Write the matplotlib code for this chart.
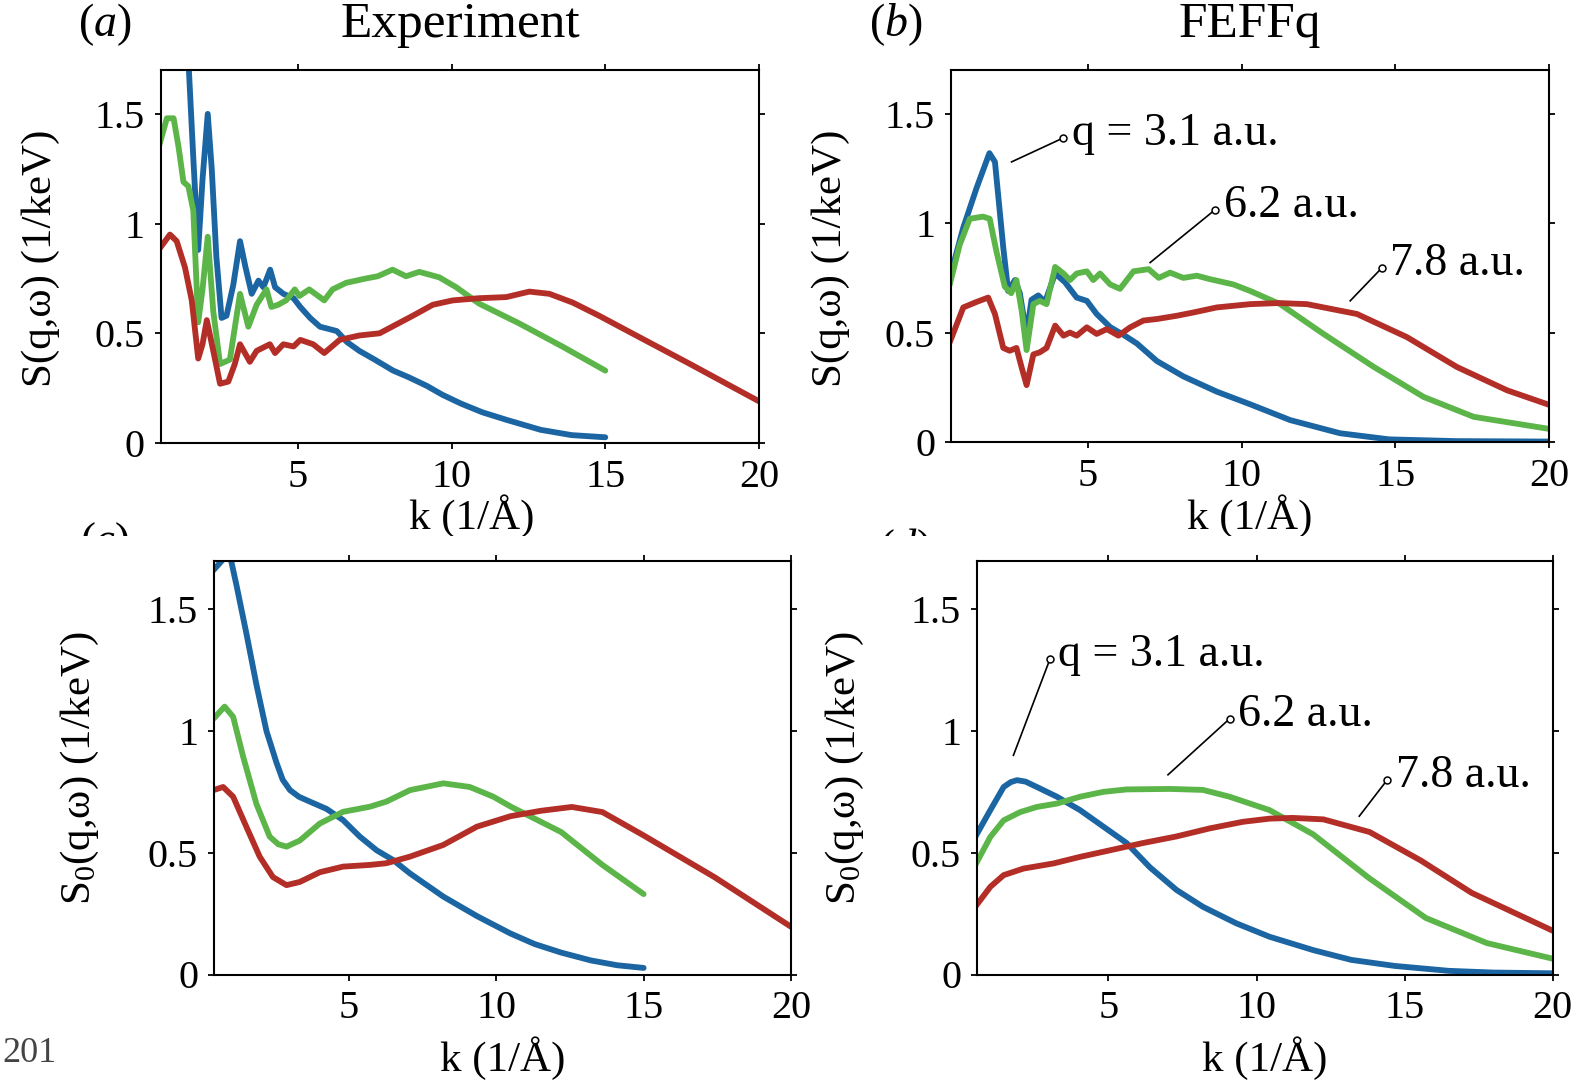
import matplotlib
matplotlib.use("Agg")
import matplotlib.pyplot as plt
from matplotlib.transforms import Bbox

plt.rcParams['font.family'] = 'Liberation Serif'
plt.rcParams['mathtext.fontset'] = 'custom'
plt.rcParams['mathtext.rm'] = 'Liberation Serif'
plt.rcParams['mathtext.it'] = 'Liberation Serif:italic'

# ---- data: k (1/A) and S (1/keV) ----
# (a) experiment, S(q,w)
exp_k_q31 = [1.2, 1.45, 1.6, 1.76, 1.9, 2.07, 2.2, 2.35, 2.52, 2.68, 2.9, 3.12, 3.3, 3.5, 3.72, 3.88, 4.1, 4.26,
             4.53, 4.86, 5.08, 5.4, 5.72, 6.0, 6.27, 6.6, 7.0, 7.5, 8.1, 8.6, 9.2, 9.7, 10.3, 11.0, 11.8, 12.9,
             13.9, 15.0]
exp_s_q31 = [2.4, 1.72, 1.3, 0.88, 1.2, 1.50, 1.25, 0.85, 0.57, 0.58, 0.72, 0.92, 0.80, 0.68, 0.74, 0.71, 0.79, 0.71,
             0.68, 0.66, 0.62, 0.57, 0.53, 0.52, 0.51, 0.46, 0.42, 0.38, 0.33, 0.30, 0.26, 0.22, 0.18, 0.14, 0.105,
             0.06, 0.036, 0.026]
exp_k_q62 = [0.5, 0.74, 0.96, 1.12, 1.28, 1.44, 1.6, 1.76, 1.9, 2.07, 2.25, 2.47, 2.79, 3.12, 3.39, 3.66, 3.98, 4.14,
             4.36, 4.62, 4.9, 5.05, 5.37, 5.86, 6.13, 6.57, 7.22, 7.6, 8.08, 8.52, 8.95, 9.6, 10.15, 10.9, 12.2,
             13.6, 15.0]
exp_s_q62 = [1.36, 1.48, 1.48, 1.35, 1.19, 1.17, 1.06, 0.55, 0.70, 0.94, 0.60, 0.36, 0.38, 0.68, 0.53, 0.63, 0.70, 0.62,
             0.63, 0.65, 0.70, 0.67, 0.70, 0.65, 0.70, 0.73, 0.75, 0.76, 0.79, 0.76, 0.78, 0.755, 0.71, 0.635, 0.545,
             0.44, 0.33]
exp_k_q78 = [0.5, 0.84, 1.06, 1.33, 1.55, 1.76, 1.9, 2.04, 2.25, 2.47, 2.74, 2.95, 3.12, 3.44, 3.66, 4.09, 4.26, 4.53,
             4.86, 5.08, 5.5, 5.86, 6.36, 7.0, 7.66, 8.2, 8.74, 9.39, 10.04, 10.9, 11.78, 12.53, 13.18, 13.94, 14.8,
             16.1, 17.73, 20.0]
exp_s_q78 = [0.885, 0.95, 0.92, 0.80, 0.65, 0.385, 0.45, 0.56, 0.42, 0.27, 0.28, 0.36, 0.45, 0.37, 0.42, 0.45, 0.41,
             0.45, 0.44, 0.47, 0.45, 0.41, 0.47, 0.49, 0.50, 0.54, 0.58, 0.63, 0.65, 0.66, 0.665, 0.69, 0.68, 0.64,
             0.58, 0.483, 0.362, 0.19]

# (b) FEFFq, S(q,w)
feff_k_q31 = [0.5, 0.94, 1.37, 1.79, 1.97, 2.24, 2.4, 2.62, 2.78, 3.0, 3.16, 3.38, 3.6, 3.93, 4.25, 4.63, 4.96, 5.28,
              5.72, 6.15, 6.59, 7.24, 8.1, 9.19, 10.28, 11.58, 13.2, 14.8, 17.0, 20.0]
feff_s_q31 = [0.75, 0.98, 1.16, 1.32, 1.28, 0.89, 0.69, 0.74, 0.68, 0.49, 0.65, 0.67, 0.64, 0.77, 0.73, 0.66, 0.645,
              0.585, 0.525, 0.49, 0.45, 0.37, 0.30, 0.23, 0.172, 0.10, 0.04, 0.012, 0.004, 0.002]
feff_k_q62 = [0.5, 0.82, 1.15, 1.58, 1.8, 2.02, 2.29, 2.5, 2.67, 2.84, 3.0, 3.22, 3.43, 3.65, 3.93, 4.2, 4.41, 4.63,
              4.96, 5.17, 5.39, 5.72, 6.04, 6.48, 6.97, 7.3, 7.67, 8.1, 8.54, 8.97, 9.73, 10.28, 11.25, 12.66, 14.3,
              15.92, 17.55, 20.0]
feff_s_q62 = [0.72, 0.90, 1.02, 1.03, 1.02, 0.87, 0.71, 0.68, 0.74, 0.60, 0.42, 0.63, 0.645, 0.63, 0.80, 0.77, 0.74,
              0.77, 0.78, 0.74, 0.77, 0.72, 0.70, 0.78, 0.79, 0.75, 0.774, 0.75, 0.76, 0.744, 0.72, 0.69, 0.63, 0.494,
              0.343, 0.206, 0.115, 0.06]
feff_k_q78 = [0.5, 0.94, 1.37, 1.75, 1.97, 2.24, 2.45, 2.67, 2.84, 3.0, 3.22, 3.43, 3.65, 3.93, 4.2, 4.41, 4.63, 4.96,
              5.28, 5.61, 5.99, 6.37, 6.8, 7.24, 7.89, 8.43, 9.19, 10.28, 11.2, 12.12, 13.75, 15.38, 17.0, 18.64, 20.0]
feff_s_q78 = [0.456, 0.615, 0.64, 0.66, 0.585, 0.43, 0.417, 0.43, 0.34, 0.26, 0.40, 0.41, 0.43, 0.532, 0.486, 0.50,
              0.486, 0.524, 0.494, 0.516, 0.486, 0.524, 0.555, 0.562, 0.577, 0.592, 0.615, 0.63, 0.635, 0.63, 0.585,
              0.479, 0.343, 0.236, 0.17]

# (c) experiment, S0(q,w)
exp0_k_q31 = [0.4, 0.84, 1.0, 1.18, 1.52, 1.86, 2.2, 2.54, 2.75, 3.0, 3.3, 3.67, 4.24, 4.8, 5.37, 5.94, 6.5, 7.07,
              8.2, 9.34, 10.47, 11.3, 12.2, 13.2, 14.1, 15.0]
exp0_s_q31 = [1.66, 1.72, 1.70, 1.60, 1.40, 1.19, 1.0, 0.87, 0.80, 0.757, 0.73, 0.71, 0.68, 0.634, 0.566, 0.51, 0.47,
              0.415, 0.32, 0.24, 0.169, 0.125, 0.09, 0.058, 0.038, 0.027]
exp0_k_q62 = [0.4, 0.78, 1.07, 1.41, 1.86, 2.31, 2.6, 2.88, 3.33, 4.01, 4.8, 5.71, 6.27, 7.07, 8.2, 9.1, 9.9, 10.48,
              12.2, 13.6, 15.0]
exp0_s_q62 = [1.05, 1.10, 1.058, 0.894, 0.70, 0.566, 0.535, 0.525, 0.55, 0.62, 0.668, 0.689, 0.71, 0.757, 0.785, 0.77,
              0.73, 0.69, 0.585, 0.45, 0.33]
exp0_k_q78 = [0.4, 0.73, 1.07, 1.52, 1.97, 2.42, 2.88, 3.33, 4.01, 4.8, 5.71, 6.27, 7.07, 8.2, 9.34, 10.48, 11.5,
              12.56, 13.6, 15.0, 17.4, 20.0]
exp0_s_q78 = [0.757, 0.77, 0.73, 0.606, 0.484, 0.40, 0.367, 0.38, 0.42, 0.443, 0.45, 0.457, 0.484, 0.532, 0.607, 0.65,
              0.672, 0.688, 0.667, 0.571, 0.40, 0.196]

# (d) FEFFq, S0(q,w)
feff0_k_q31 = [0.5, 1.01, 1.46, 1.7, 1.91, 2.2, 2.58, 3.26, 4.04, 4.83, 5.61, 6.4, 7.3, 8.19, 9.32, 10.44, 11.92,
               13.2, 14.68, 16.5, 18.0, 20.0]
feff0_s_q31 = [0.565, 0.675, 0.77, 0.79, 0.798, 0.792, 0.77, 0.73, 0.675, 0.607, 0.54, 0.44, 0.347, 0.278, 0.21,
               0.155, 0.10, 0.06, 0.035, 0.015, 0.008, 0.005]
feff0_k_q62 = [0.5, 1.01, 1.46, 2.02, 2.58, 3.26, 4.04, 4.83, 5.61, 7.07, 8.19, 9.09, 10.44, 11.92, 13.8, 15.72, 17.78,
               20.0]
feff0_s_q62 = [0.449, 0.565, 0.633, 0.667, 0.688, 0.702, 0.73, 0.75, 0.76, 0.762, 0.758, 0.73, 0.675, 0.575, 0.396,
               0.232, 0.129, 0.065]
feff0_k_q78 = [0.5, 1.01, 1.46, 2.13, 3.14, 4.04, 5.05, 6.17, 7.3, 8.42, 9.54, 10.44, 11.22, 12.26, 13.82, 15.55,
               17.27, 20.0]
feff0_s_q78 = [0.278, 0.36, 0.408, 0.435, 0.456, 0.483, 0.51, 0.54, 0.567, 0.60, 0.627, 0.64, 0.643, 0.637, 0.585,
               0.468, 0.335, 0.18]

q_labels = ['q = 3.1 a.u.', '6.2 a.u.', '7.8 a.u.']
# annotation lines: curve end -> circle end (panel b, panel d)
ann_b_from = [(2.51, 1.28), (7.02, 0.82), (13.53, 0.645)]
ann_b_to = [(4.2, 1.39), (9.14, 1.062), (14.57, 0.797)]
ann_d_from = [(1.79, 0.90), (7.01, 0.82), (13.47, 0.65)]
ann_d_to = [(3.03, 1.297), (9.09, 1.05), (14.42, 0.80)]

colors = ['#1c65a3', '#5cb548', '#b42e28']
W, H = 1585, 1082

fig = plt.figure(figsize=(W / 100, H / 100), dpi=100)


def make_axes(left, right, top, bottom, xmin):
    ax = fig.add_axes([left / W, 1 - bottom / H, (right - left) / W, (bottom - top) / H])
    ax.set_xlim(xmin, 20)
    ax.set_ylim(0, 1.7)
    ax.set_xticks([5, 10, 15, 20])
    ax.set_xticklabels(['5', '10', '15', '20'])
    ax.set_yticks([0, 0.5, 1, 1.5])
    ax.set_yticklabels(['0', '0.5', '1', '1.5'])
    ax.tick_params(direction='out', length=4.5, width=1.3, top=True, right=True,
                   labelsize=29, pad=7)
    for s in ax.spines.values():
        s.set_linewidth(1.5)
    return ax


ax_a = make_axes(160.7, 759, 70, 443, 0.54)
ax_b = make_axes(951, 1549, 70, 442, 0.54)
ax_c = make_axes(214, 791, 560.5, 974.5, 0.42)
ax_d = make_axes(977, 1552.6, 560.5, 974.5, 0.56)

panels = [
    (ax_a, [(exp_k_q31, exp_s_q31), (exp_k_q62, exp_s_q62), (exp_k_q78, exp_s_q78)]),
    (ax_b, [(feff_k_q31, feff_s_q31), (feff_k_q62, feff_s_q62), (feff_k_q78, feff_s_q78)]),
    (ax_c, [(exp0_k_q31, exp0_s_q31), (exp0_k_q62, exp0_s_q62), (exp0_k_q78, exp0_s_q78)]),
    (ax_d, [(feff0_k_q31, feff0_s_q31), (feff0_k_q62, feff0_s_q62), (feff0_k_q78, feff0_s_q78)]),
]
for ax, series in panels:
    for (k, s), c in zip(series, colors):
        ax.plot(k, s, color=c, lw=4.2, solid_joinstyle='round', solid_capstyle='round')

for ax, starts, ends in [(ax_b, ann_b_from, ann_b_to), (ax_d, ann_d_from, ann_d_to)]:
    for lab, p0, p1 in zip(q_labels, starts, ends):
        ax.plot([p0[0], p1[0]], [p0[1], p1[1]], color='black', lw=1.2)
        ax.plot(p1[0], p1[1], 'o', ms=5, mfc='white', mec='black', mew=1.1)
        ax.annotate(lab, xy=p1, xytext=(6, 3), textcoords='offset points',
                    ha='left', va='center', fontsize=33)


def ftext(x, y, s, **kw):
    return fig.text(x / W, 1 - y / H, s, **kw)


# panel headers
ftext(105, 25, r'($a$)', ha='center', va='center', fontsize=33)
ftext(460, 25, 'Experiment', ha='center', va='center', fontsize=37)
ftext(896, 25, r'($b$)', ha='center', va='center', fontsize=33)
ftext(1250, 25, 'FEFFq', ha='center', va='center', fontsize=37)

# y labels
ftext(41, 258, 'S(q,ω) (1/keV)', rotation=90, ha='center', va='center', fontsize=31)
ftext(831, 258, 'S(q,ω) (1/keV)', rotation=90, ha='center', va='center', fontsize=31)
ftext(80, 768, r'S$_0$(q,ω) (1/keV)', rotation=90, ha='center', va='center', fontsize=31)
ftext(845, 768, r'S$_0$(q,ω) (1/keV)', rotation=90, ha='center', va='center', fontsize=31)

# x labels; the upper ones and the (c), (d) letters are cut off by the lower panels
cut = Bbox.from_extents(0, H - 536, W, H)
for t in [ftext(472, 516, 'k (1/Å)', ha='center', va='center', fontsize=31),
          ftext(1250, 516, 'k (1/Å)', ha='center', va='center', fontsize=31),
          ftext(105, 520, r'($c$)', ha='center', va='top', fontsize=32),
          ftext(905, 526, r'($d$)', ha='center', va='top', fontsize=32)]:
    t.set_clip_box(cut)
    t.set_clip_on(True)
ftext(503, 1058, 'k (1/Å)', ha='center', va='center', fontsize=31)
ftext(1265, 1058, 'k (1/Å)', ha='center', va='center', fontsize=31)

ftext(2, 1062, '201', ha='left', va='baseline', fontsize=26, color='#444444')

fig.savefig('out.png', dpi=100)
